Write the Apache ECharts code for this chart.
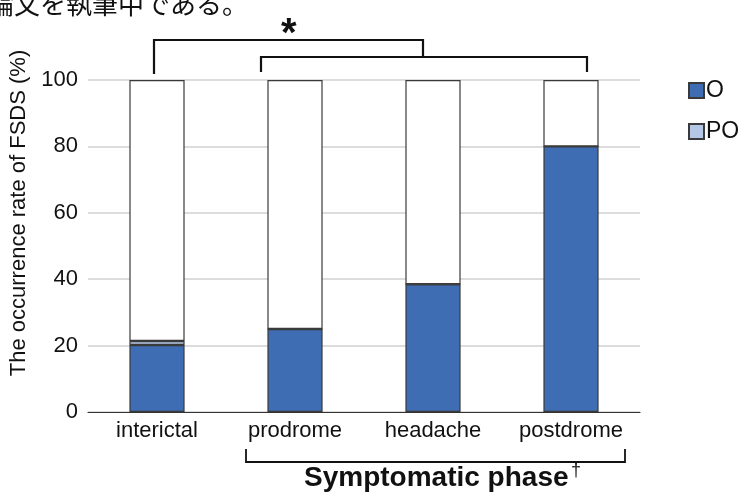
<!DOCTYPE html>
<html><head><meta charset="utf-8">
<script src="https://cdn.jsdelivr.net/npm/echarts@6/dist/echarts.min.js"></script>
<style>html,body{margin:0;padding:0;background:#fff}#c{width:746px;height:494px}</style>
</head><body><div id="c"></div>
<script>
var categories = ['interictal', 'prodrome', 'headache', 'postdrome'];
var oValues = [20.2, 25, 38.5, 80];
var poValues = [1.2, 0, 0, 0];
var restValues = categories.map(function(_, i){ return 100 - oValues[i] - poValues[i]; });
var yTicks = [0, 20, 40, 60, 80, 100];

var chart = echarts.init(document.getElementById('c'));
var font = '"Liberation Sans", Arial, sans-serif';
var border = { borderColor: '#3a3a3a', borderWidth: 1.2 };
chart.setOption({
  animation: false,
  grid: { left: 88, right: 106, top: 80, bottom: 82 },
  legend: {
    orient: 'vertical', left: 683, top: 74, itemGap: 18,
    itemWidth: 15, itemHeight: 15, icon: 'rect',
    textStyle: { fontFamily: font, fontSize: 23, color: '#111', padding: [0,0,0,-3] },
    data: ['O', 'PO']
  },
  xAxis: {
    type: 'category', data: categories,
    axisLine: { lineStyle: { color: '#333', width: 1.2 } },
    axisTick: { show: false },
    axisLabel: { fontFamily: font, fontSize: 22, color: '#111', margin: 8 }
  },
  yAxis: {
    type: 'value', min: yTicks[0], max: yTicks[yTicks.length-1], interval: 20,
    axisLine: { show: false }, axisTick: { show: false },
    axisLabel: { fontFamily: font, fontSize: 22, color: '#111', margin: 10 },
    splitLine: { lineStyle: { color: '#dcdcdc', width: 2 } }
  },
  series: [
    { name: 'O', type: 'bar', stack: 's', data: oValues, barWidth: '40%',
      itemStyle: Object.assign({ color: '#3f6db3' }, border) },
    { name: 'PO', type: 'bar', stack: 's', data: poValues,
      itemStyle: Object.assign({ color: '#b4c7e7' }, border) },
    { name: 'rest', type: 'bar', stack: 's', data: restValues,
      itemStyle: Object.assign({ color: '#ffffff' }, border) }
  ],
  graphic: [
    { type: 'text', x: 19, y: 213, rotation: Math.PI / 2,
      style: { text: 'The occurrence rate of FSDS (%)', fontFamily: font, fontSize: 22, fill: '#111', align: 'center', verticalAlign: 'middle' } },
    { type: 'text', left: -12, top: -9, style: { text: '論文を執筆中である。', fontFamily: '"Noto Sans CJK JP"', fontSize: 26, fill: '#111' } },
    { type: 'text', left: 281, top: 15, style: { text: '*', fontFamily: font, fontSize: 40, fontWeight: 'bold', fill: '#111' } },
    { type: 'polyline', shape: { points: [[154,74],[154,40],[423,40],[423,57]] }, style: { stroke: '#111', lineWidth: 2.2, fill: null } },
    { type: 'polyline', shape: { points: [[261,72],[261,57],[587,57],[587,72]] }, style: { stroke: '#111', lineWidth: 2.2, fill: null } },
    { type: 'polyline', shape: { points: [[246,449],[246,462],[625,462],[625,449]] }, style: { stroke: '#111', lineWidth: 1.8, fill: null } },
    { type: 'text', left: 304, top: 464, style: { text: 'Symptomatic phase', fontFamily: font, fontSize: 28, fontWeight: 'bold', fill: '#111' } },
    { type: 'text', left: 571, top: 462, style: { text: '†', fontFamily: font, fontSize: 18, fill: '#111' } }
  ]
});
</script></body></html>
